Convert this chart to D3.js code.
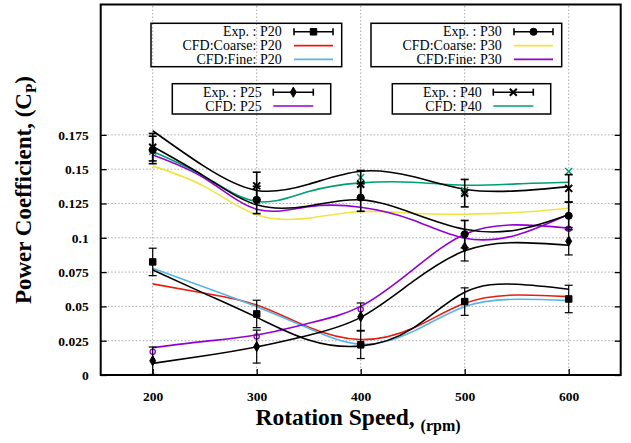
<!DOCTYPE html>
<html><head><meta charset="utf-8">
<script src="https://cdn.jsdelivr.net/npm/d3@7"></script>
<style>body{margin:0;background:#fff}svg{display:block}text{font-family:"Liberation Serif","Times New Roman",serif}</style>
</head><body>
<script>
// ---- data ----
const rpm = [200, 300, 400, 500, 600];
const fitRpm = [200, 250, 300, 350, 400, 450, 500, 550, 600];
const xTicks = [200, 300, 400, 500, 600];
const yTicks = [0, 0.025, 0.05, 0.075, 0.1, 0.125, 0.15, 0.175];
const yTickLabels = ["0", "0.025", "0.05", "0.075", "0.1", "0.125", "0.15", "0.175"];

// experimental values and error (+/-)
const expP20 = [0.0824, 0.0445, 0.0220, 0.0535, 0.0554];
const expP25 = [0.0104, 0.0207, 0.0425, 0.0931, 0.0975];
const expP30 = [0.1640, 0.1276, 0.1293, 0.1026, 0.1160];
const expP40 = [0.1660, 0.1378, 0.1390, 0.1325, 0.1360];
const errP20 = [0.010, 0.010, 0.010, 0.010, 0.010];
const errP25 = [0.010, 0.012, 0.010, 0.010, 0.010];
const errP30 = [0.010, 0.010, 0.010, 0.010, 0.010];
const errP40 = [0.010, 0.010, 0.010, 0.010, 0.010];

// smooth fits through experimental data (black curves)
const fitP20 = [0.0766, 0.0593, 0.0420, 0.0255, 0.0211, 0.0340, 0.0603, 0.0661, 0.0625];
const fitP25 = [0.0085, 0.0140, 0.0205, 0.0290, 0.0420, 0.0680, 0.0905, 0.0965, 0.0945];
const fitP30 = [0.1665, 0.1446, 0.1240, 0.1232, 0.1276, 0.1179, 0.1062, 0.1057, 0.1167];
const fitP40 = [0.1780, 0.1518, 0.1345, 0.1390, 0.1485, 0.1446, 0.1354, 0.1342, 0.1373];

// CFD curves
const cfdCoarseP20 = [0.0664, 0.0596, 0.0510, 0.0348, 0.0258, 0.0340, 0.0523, 0.0583, 0.0571];
const cfdFineP20   = [0.0778, 0.0640, 0.0498, 0.0340, 0.0224, 0.0316, 0.0498, 0.0552, 0.0542];
const cfdCoarseP30 = [0.1524, 0.1373, 0.1167, 0.1143, 0.1191, 0.1179, 0.1172, 0.1184, 0.1215];
const cfdFineP30   = [0.1604, 0.1434, 0.1208, 0.1227, 0.1223, 0.1130, 0.0997, 0.1021, 0.1172];
const cfdP25       = [0.0199, 0.0245, 0.0292, 0.0377, 0.0500, 0.0766, 0.1026, 0.1094, 0.1070];
const cfdP40       = [0.1628, 0.1446, 0.1264, 0.1337, 0.1400, 0.1405, 0.1383, 0.1393, 0.1405];
// CFD point markers
const cfdP25Pts = [0.0170, 0.0280, 0.0480, 0.1020, 0.1065];
const cfdP40Pts = [0.1630, 0.1270, 0.1440, 0.1344, 0.1483];

const colors = {red: "#e51e10", blue: "#56b4e9", yellow: "#f0e442", purple: "#9400d3", green: "#009e73"};

// ---- layout ----
const W = 631, H = 443;
const svg = d3.select("body").append("svg").attr("width", W).attr("height", H);
const x = d3.scaleLinear().domain([150, 650]).range([100.7, 620.7]);
const y = d3.scaleLinear().domain([0, 0.27]).range([375, 4.5]);

// grid
const g = svg.append("g");
g.selectAll(".vg").data(xTicks).join("line")
  .attr("x1", d => x(d)).attr("x2", d => x(d)).attr("y1", y(0)).attr("y2", y(0.27))
  .attr("stroke", "#a8a8a8").attr("stroke-width", 1).attr("stroke-dasharray", "1.5,2");
g.selectAll(".hg").data(yTicks.slice(1)).join("line")
  .attr("x1", x(150)).attr("x2", x(650)).attr("y1", d => y(d)).attr("y2", d => y(d))
  .attr("stroke", "#a8a8a8").attr("stroke-width", 1).attr("stroke-dasharray", "1.5,2");

// axes (ticks inward)
const axL = d3.axisLeft(y).tickValues(yTicks).tickSize(-6).tickPadding(12).tickFormat((d, i) => yTickLabels[i]);
const axR = d3.axisRight(y).tickValues(yTicks).tickSize(-6).tickFormat("");
const axB = d3.axisBottom(x).tickValues(xTicks).tickSize(-6).tickPadding(16).tickFormat(d3.format("d"));
function style(sel) {
  sel.select(".domain").remove();
  sel.selectAll("line").attr("stroke", "#000").attr("stroke-width", 1.3);
  sel.selectAll("text").attr("font-family", "'Liberation Serif', serif").attr("font-weight", "bold").attr("font-size", 13.5).attr("fill", "#000");
}
svg.append("g").attr("transform", `translate(${x(150)},0)`).call(axL).call(style);
svg.append("g").attr("transform", `translate(${x(650)},0)`).call(axR).call(style);
svg.append("g").attr("transform", `translate(0,${y(0)})`).call(axB).call(style);

// frame
svg.append("rect").attr("x", x(150)).attr("y", y(0.27)).attr("width", x(650) - x(150)).attr("height", y(0) - y(0.27))
  .attr("fill", "none").attr("stroke", "#000").attr("stroke-width", 2);

// curves
const line = d3.line().x((d, i) => x(fitRpm[i])).y(d => y(d)).curve(d3.curveNatural);
const curves = [
  [cfdCoarseP30, colors.yellow], [cfdFineP30, colors.purple], [cfdP40, colors.green],
  [cfdCoarseP20, colors.red], [cfdFineP20, colors.blue], [cfdP25, colors.purple],
  [fitP20, "#000"], [fitP25, "#000"], [fitP30, "#000"], [fitP40, "#000"]
];
svg.append("g").selectAll("path").data(curves).join("path")
  .attr("d", d => line(d[0])).attr("fill", "none").attr("stroke", d => d[1]).attr("stroke-width", 1.6);

// CFD markers
svg.append("g").selectAll("circle").data(cfdP25Pts).join("circle")
  .attr("cx", (d, i) => x(rpm[i])).attr("cy", d => y(d)).attr("r", 2.6)
  .attr("fill", "none").attr("stroke", colors.purple).attr("stroke-width", 1.3);
svg.append("g").selectAll("path").data(cfdP40Pts).join("path")
  .attr("transform", (d, i) => `translate(${x(rpm[i])},${y(d)})`)
  .attr("d", "M-3.5,-3.5L3.5,3.5M-3.5,3.5L3.5,-3.5").attr("stroke", colors.green).attr("stroke-width", 1.4);

// error bars + markers
function errBars(vals, errs, sw) {
  const gg = svg.append("g").attr("stroke", "#000").attr("stroke-width", sw);
  vals.forEach((v, i) => {
    const cx = x(rpm[i]), y1 = y(v + errs[i]), y2 = y(Math.max(0, v - errs[i]));
    gg.append("line").attr("x1", cx).attr("x2", cx).attr("y1", y1).attr("y2", y2);
    gg.append("line").attr("x1", cx - 4).attr("x2", cx + 4).attr("y1", y1).attr("y2", y1);
    gg.append("line").attr("x1", cx - 4).attr("x2", cx + 4).attr("y1", y2).attr("y2", y2);
  });
}
errBars(expP20, errP20, 1.2);
errBars(expP25, errP25, 1.2);
errBars(expP30, errP30, 1.6);
errBars(expP40, errP40, 1.6);

const sym = {
  square: d3.symbol().type(d3.symbolSquare).size(42)(),
  diamond: d3.symbol().type(d3.symbolDiamond).size(30)(),
  circle: d3.symbol().type(d3.symbolCircle).size(40)(),
  cross: "M-3.5,-3.5L3.5,3.5M-3.5,3.5L3.5,-3.5"
};
function markers(vals, type) {
  svg.append("g").selectAll("path").data(vals).join("path")
    .attr("transform", (d, i) => `translate(${x(rpm[i])},${y(d)})`)
    .attr("d", sym[type])
    .attr("fill", type === "cross" ? "none" : "#000")
    .attr("stroke", "#000").attr("stroke-width", type === "cross" ? 2 : 1);
}
markers(expP20, "square");
markers(expP25, "diamond");
markers(expP30, "circle");
markers(expP40, "cross");

// legends
function legend(bx, by, bw, bh, textRight, sx1, sx2, rows) {
  const lg = svg.append("g");
  lg.append("rect").attr("x", bx).attr("y", by).attr("width", bw).attr("height", bh)
    .attr("fill", "none").attr("stroke", "#000").attr("stroke-width", 1.5);
  rows.forEach((r, i) => {
    const cy = by + 8.5 + i * 13.8;
    lg.append("text").attr("x", textRight).attr("y", cy + 4.5).attr("text-anchor", "end")
      .attr("font-size", 14).attr("fill", "#000").text(r.label);
    if (r.marker) {
      const mx = (sx1 + sx2) / 2;
      lg.append("line").attr("x1", sx1).attr("x2", sx2).attr("y1", cy).attr("y2", cy).attr("stroke", "#000").attr("stroke-width", 1.6);
      lg.append("line").attr("x1", sx1).attr("x2", sx1).attr("y1", cy - 3.5).attr("y2", cy + 3.5).attr("stroke", "#000").attr("stroke-width", 1.6);
      lg.append("line").attr("x1", sx2).attr("x2", sx2).attr("y1", cy - 3.5).attr("y2", cy + 3.5).attr("stroke", "#000").attr("stroke-width", 1.6);
      lg.append("path").attr("transform", `translate(${mx},${cy})`).attr("d", sym[r.marker])
        .attr("fill", r.marker === "cross" ? "none" : "#000").attr("stroke", "#000").attr("stroke-width", r.marker === "cross" ? 2 : 1);
    } else {
      lg.append("line").attr("x1", sx1).attr("x2", sx2).attr("y1", cy).attr("y2", cy).attr("stroke", r.color).attr("stroke-width", 1.6);
    }
  });
}
legend(151, 23.3, 190.7, 43.4, 281.7, 294, 333, [
  {label: "Exp. : P20", marker: "square"}, {label: "CFD:Coarse: P20", color: colors.red}, {label: "CFD:Fine: P20", color: colors.blue}]);
legend(371, 23.3, 190.7, 43.4, 501.7, 514, 553, [
  {label: "Exp. : P30", marker: "circle"}, {label: "CFD:Coarse: P30", color: colors.yellow}, {label: "CFD:Fine: P30", color: colors.purple}]);
legend(172.3, 83.7, 158.4, 30.3, 261.7, 273.3, 313.3, [
  {label: "Exp. : P25", marker: "diamond"}, {label: "CFD: P25", color: colors.purple}]);
legend(392.3, 83.7, 158.4, 30.3, 481.7, 493.3, 533.3, [
  {label: "Exp. : P40", marker: "cross"}, {label: "CFD: P40", color: colors.green}]);

// axis titles
const xt = svg.append("text").attr("x", 358).attr("y", 425).attr("text-anchor", "middle")
  .attr("font-weight", "bold").attr("font-size", 23.5).attr("fill", "#000");
xt.append("tspan").text("Rotation Speed, ");
xt.append("tspan").attr("font-size", 16).attr("dy", 6).text("(rpm)");

const yt = svg.append("text").attr("transform", "translate(31,190) rotate(-90)").attr("text-anchor", "middle")
  .attr("font-weight", "bold").attr("font-size", 23).attr("fill", "#000");
yt.append("tspan").text("Power Coefficient, (C");
yt.append("tspan").attr("font-size", 15.5).attr("dy", 5).text("P");
yt.append("tspan").attr("dy", -5).text(")");
</script>
</body></html>
